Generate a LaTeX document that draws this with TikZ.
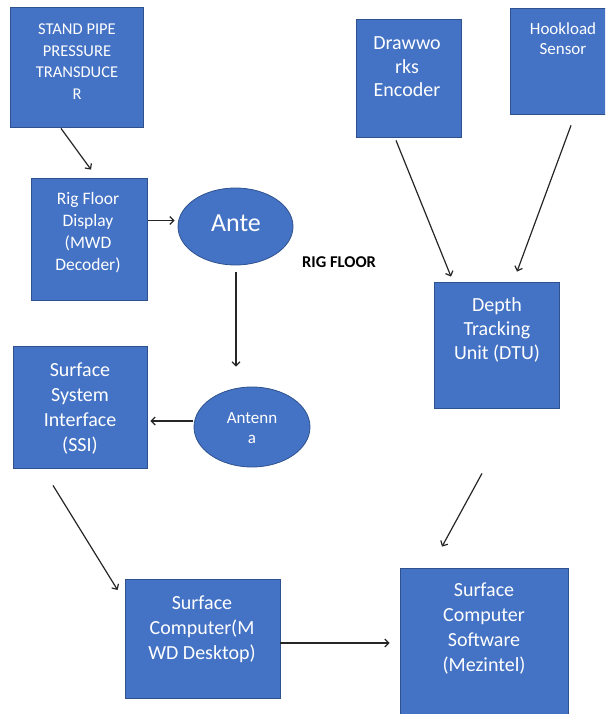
\documentclass[tikz,border=0pt]{standalone}
\usepackage{fontspec}
\setmainfont{Carlito}
\usetikzlibrary{calc,shapes.geometric,arrows.meta}
\definecolor{boite}{HTML}{4472C4}
\definecolor{bord}{HTML}{2F528F}
\definecolor{fleche}{HTML}{262626}

\begin{document}
\begin{tikzpicture}[x=1pt, y=-1pt, >={Straight Barb[length=4pt,width=8pt]},
  bloc/.style={rectangle, draw=bord, fill=boite, line width=0.8pt, inner sep=0pt},
  ovale/.style={ellipse, draw=bord, fill=boite, line width=0.8pt, inner sep=0pt},
  texte/.style={text=white, align=center, inner sep=0pt, anchor=base},
  lien/.style={->, draw=fleche, line width=1.2pt}]

% Cadre de la figure
\clip (0,0) rectangle (605,714);

% Les blocs
\node[bloc, minimum width=133, minimum height=120] (sppt) at (76.5,67) {};
\node[bloc, minimum width=116, minimum height=122] (rfd) at (89,239) {};
\node[bloc, minimum width=105, minimum height=118] (dww) at (408.5,78) {};
\node[bloc, minimum width=106, minimum height=106] (hook) at (563,61) {};
\node[bloc, minimum width=125, minimum height=126] (dtu) at (496.5,345) {};
\node[bloc, minimum width=134, minimum height=122] (ssi) at (80,407) {};
\node[bloc, minimum width=155, minimum height=119] (sc) at (202.5,638.5) {};
\node[bloc, minimum width=168, minimum height=157] (scs) at (484,646.5) {};

% Les antennes
\node[ovale, minimum width=115, minimum height=77] (ante) at (235.5,226.5) {};
\node[ovale, minimum width=116, minimum height=80] (antenna) at (252,427) {};

% Les textes (ancrés sur la dernière ligne)
\node[texte, font=\fontsize{16.5}{21.5}\selectfont] (sppt-t) at (77,99.5) {STAND PIPE\\PRESSURE\\TRANSDUCE\\R};
\node[texte, font=\fontsize{17.5}{21.7}\selectfont] (rfd-t) at (88,270) {Rig Floor\\Display\\(MWD\\Decoder)};
\node[texte, font=\fontsize{20}{23.5}\selectfont] (dww-t) at (407,97) {Drawwo\\rks\\Encoder};
\node[texte, font=\fontsize{17}{20}\selectfont] (hook-t) at (563,55) {Hookload\\Sensor};
\node[texte, font=\fontsize{20}{24}\selectfont] (dtu-t) at (497,359) {Depth\\Tracking\\Unit (DTU)};
\node[texte, font=\fontsize{20}{25}\selectfont] (ssi-t) at (80,451) {Surface\\System\\Interface\\(SSI)};
\node[texte, font=\fontsize{20}{25}\selectfont] (sc-t) at (202,659) {Surface\\Computer(M\\WD Desktop)};
\node[texte, font=\fontsize{20}{24.7}\selectfont] (scs-t) at (484,671) {Surface\\Computer\\Software\\(Mezintel)};
\node[texte, font=\fontsize{26}{31}\selectfont] (ante-t) at (236,231) {Ante};
\node[texte, font=\fontsize{17}{20}\selectfont] (antenna-t) at (252,443) {Antenn\\a};
\node[anchor=base west, inner sep=0pt, font=\fontsize{16.5}{20}\selectfont\bfseries] (rig) at (302,267) {RIG FLOOR};

% Les flèches
\draw[lien] ($(sppt.south)+(-15.5,1)$) -- ($(rfd.north)+(2,-8)$);
\draw[lien] ($(rfd.east)+(0.5,-18.5)$) -- ($(ante.west)+(-3,-6)$);
\draw[lien] ($(ante.south)+(0.5,7)$) -- ($(antenna.north)+(-16,-20)$);
\draw[lien] ($(antenna.west)+(-1,-6)$) -- ($(ssi.east)+(3,14)$);
\draw[lien] ($(ssi.south)+(-27,17)$) -- ($(sc.west)+(-7,-48.5)$);
\draw[lien] ($(sc.east)+(0,4.5)$) -- ($(scs.west)+(-10,-3.5)$);
\draw[lien] ($(dtu.south)+(-14.5,65)$) -- ($(scs.north)+(-42,-21)$);
\draw[lien] ($(dww.south)+(-12.5,3)$) -- ($(dtu.north)+(-45.5,-5)$);
\draw[lien] ($(hook.south)+(8,11)$) -- ($(dtu.north)+(20.5,-10)$);

\end{tikzpicture}
\end{document}
